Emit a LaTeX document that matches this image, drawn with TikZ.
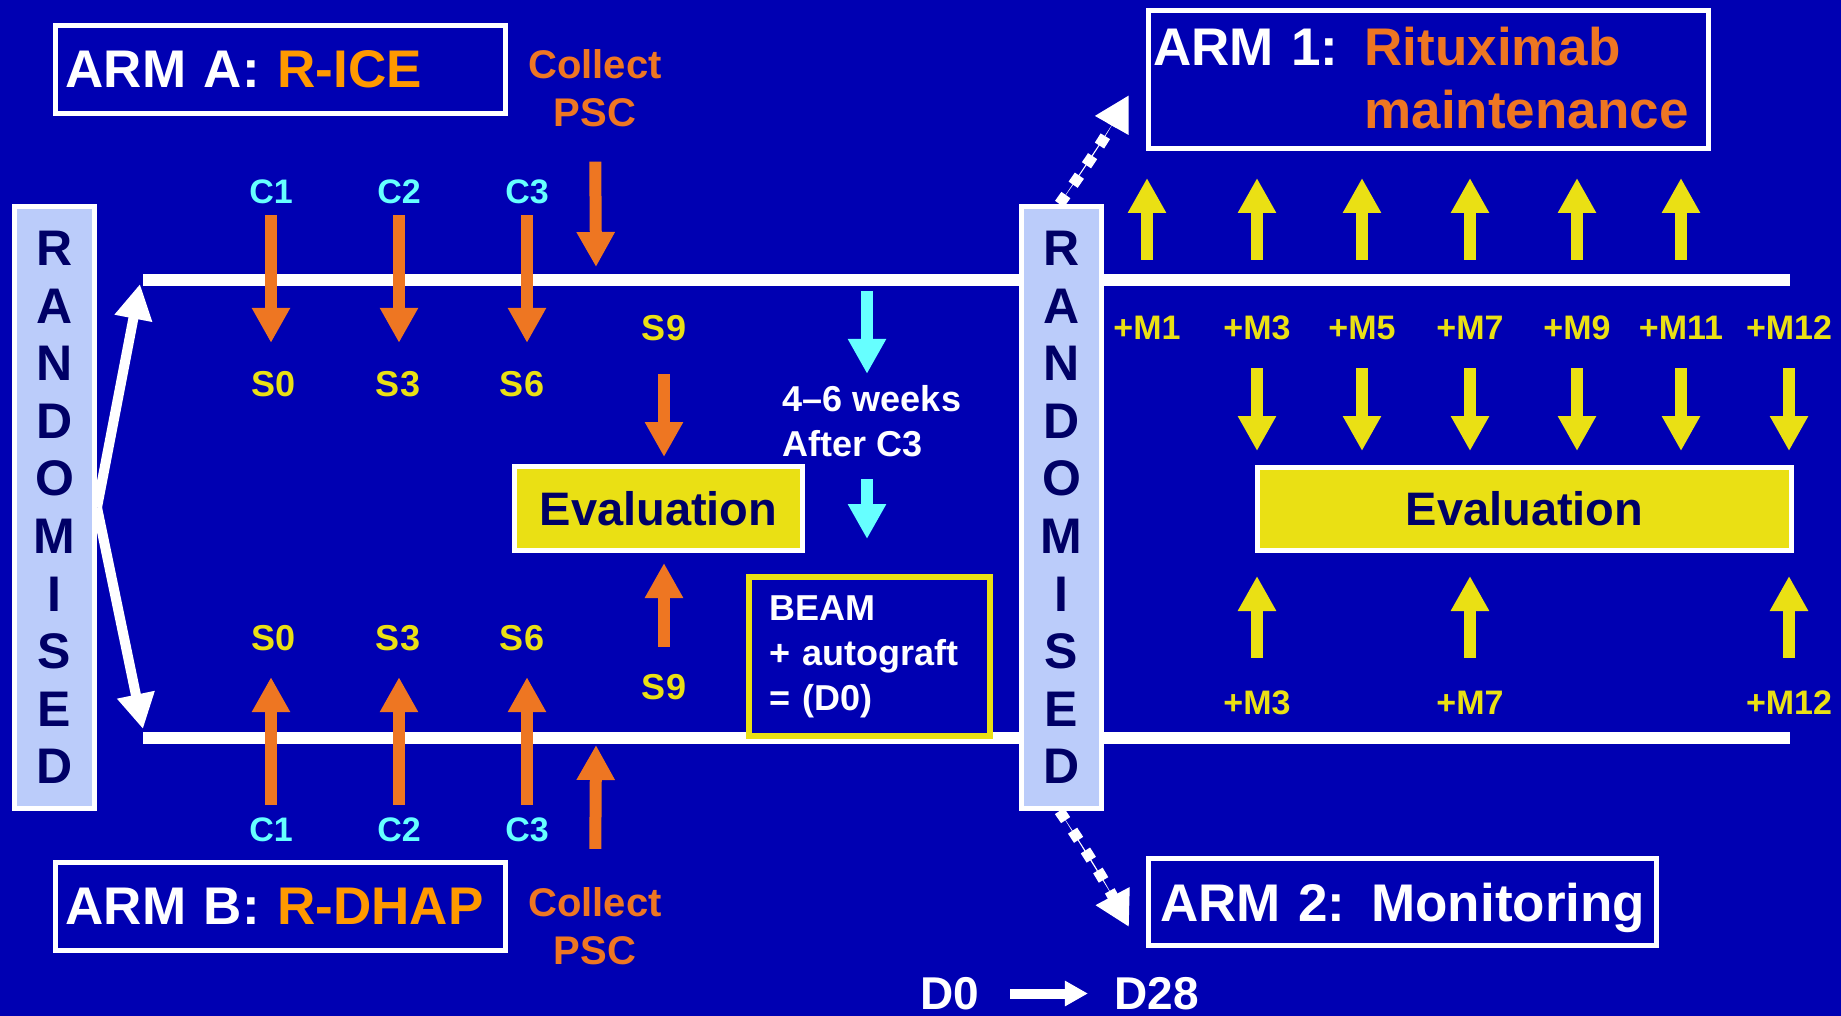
\documentclass[tikz,border=0pt]{standalone}
\usepackage{fontspec}
\setmainfont{Liberation Sans}
\usetikzlibrary{arrows.meta}
\definecolor{slideblue}{RGB}{0,0,178}
\definecolor{pscorange}{RGB}{238,118,34}
\definecolor{armorange}{RGB}{255,153,0}
\definecolor{evalyellow}{RGB}{234,224,20}
\definecolor{cyclecyan}{RGB}{102,255,255}
\definecolor{randblue}{RGB}{187,204,250}
\definecolor{navytext}{RGB}{0,0,102}

\begin{document}
\begin{tikzpicture}[x=0.5pt, y=-0.5pt,
	every node/.style={inner sep=0pt, font=\bfseries},
	boxed/.style={draw=white, line width=2.5pt},
	randbox/.style={boxed, fill=randblue, text=navytext, minimum width=40pt, minimum height=301pt, align=center, font=\bfseries\fontsize{25}{28.8}\selectfont},
	armbox/.style={boxed, fill=slideblue, text=white, align=left, font=\bfseries\fontsize{26.5}{31.5}\selectfont},
	evalbox/.style={boxed, fill=evalyellow, text=navytext, font=\bfseries\fontsize{23.5}{28}\selectfont},
	cyc/.style={text=cyclecyan, font=\bfseries\fontsize{17}{20}\selectfont},
	stage/.style={text=evalyellow, font=\bfseries\fontsize{18}{21}\selectfont},
	month/.style={text=evalyellow, font=\bfseries\fontsize{17}{20}\selectfont},
	tline/.style={draw=white, line width=6pt},
	blockarrow/.style={line width=6pt, -{Triangle[width=18pt, length=17.5pt]}},
	oarrow/.style={blockarrow, draw=pscorange, fill=pscorange},
	yarrow/.style={blockarrow, draw=evalyellow, fill=evalyellow},
	carrow/.style={blockarrow, draw=cyclecyan, fill=cyclecyan},
	warrow/.style={draw=white, fill=white, line width=5pt, -{Triangle[width=18pt, length=17.5pt]}},
	dotarrow/.style={draw=white, fill=white, line width=5.5pt, dash pattern=on 5.5pt off 6.3pt, -{Triangle[width=18pt, length=17.5pt]}}]

	\fill[slideblue] (0,0) rectangle (1841,1016);

	% time lines
	\coordinate (tlA) at (143,280);
	\coordinate (trA) at (1790,280);
	\coordinate (tlB) at (143,737.5);
	\coordinate (trB) at (1790,737.5);
	\draw[tline] (tlA) -- (trA);
	\draw[tline] (tlB) -- (trB);

	\node[randbox] (randL) at (54.5,507.5) {R\\A\\N\\D\\O\\M\\I\\S\\E\\D};
	\node[randbox] (randR) at (1061.5,507.5) {R\\A\\N\\D\\O\\M\\I\\S\\E\\D};

	\node[armbox, minimum width=225pt, minimum height=44pt, inner xsep=5pt, text width=215pt] (armA) at (280.5,69.5) {ARM A: \textcolor{armorange}{R-ICE}};
	\node[armbox, minimum width=225pt, minimum height=44pt, inner xsep=5pt, text width=215pt] (armB) at (280.5,906.5) {ARM B: \textcolor{armorange}{R-DHAP}};
	\node[armbox, minimum width=280pt, minimum height=69pt, inner xsep=2.25pt, text width=275.5pt] (armOne) at (1428.5,79.5)
		{\raisebox{-2.5pt}[\height][\depth]{\begin{tabular}{@{}l@{\hspace{13pt}}l@{}}ARM 1: & \color{pscorange}Rituximab\\ & \color{pscorange}maintenance\end{tabular}}};
	\node[armbox, minimum width=254pt, minimum height=43.5pt, inner xsep=5.75pt, text width=242.5pt, text depth=0pt] (armTwo) at (1402.5,902) {\mbox{ARM 2:\hspace{13pt}Monitoring}};

	\node[text=pscorange, align=center, font=\bfseries\fontsize{20}{24}\selectfont] (collectA) at (595,88.5) {Collect\\PSC};
	\node[text=pscorange, align=center, font=\bfseries\fontsize{20}{24}\selectfont] (collectB) at (595,926) {Collect\\PSC};

	\begin{scope}[every node/.style={inner sep=0pt, stage}]
	\node[cyc] (cA1) at (271,192) {C1};
	\node[cyc] (cA2) at (399,192) {C2};
	\node[cyc] (cA3) at (527,192) {C3};
	\node (sA0) at (274,384) {S0};
	\node (sA3) at (398,384) {S3};
	\node (sA6) at (522,384) {S6};
	\node (sA9) at (664,328) {S9};

	\node (sB0) at (274,638) {S0};
	\node (sB3) at (398,638) {S3};
	\node (sB6) at (522,638) {S6};
	\node (sB9) at (664,687) {S9};
	\node[cyc] (cB1) at (271,830) {C1};
	\node[cyc] (cB2) at (399,830) {C2};
	\node[cyc] (cB3) at (527,830) {C3};
	\end{scope}

	\node[evalbox, minimum width=144pt, minimum height=42pt] (evalL) at (658.5,508.5) {Evaluation};
	\node[evalbox, minimum width=267pt, minimum height=41.5pt] (evalR) at (1524.5,509) {Evaluation};

	\node[text=white, align=left, font=\bfseries\fontsize{18}{22.5}\selectfont] (weeks) at (872,421) {4--6 weeks\\After C3};
	\node[draw=evalyellow, line width=3pt, fill=slideblue, text=white, align=left, minimum width=120.5pt, minimum height=79.5pt, inner xsep=10pt, text width=100.5pt, font=\bfseries\fontsize{18}{22.5}\selectfont] (beam) at (869.5,656.5) {BEAM\\+ autograft\\= (D0)};

	\begin{scope}[every node/.style={inner sep=0pt, month}]
	\node (mA1) at (1147,328) {+M1};
	\node (mA3) at (1257,328) {+M3};
	\node (mA5) at (1362,328) {+M5};
	\node (mA7) at (1470,328) {+M7};
	\node (mA9) at (1577,328) {+M9};
	\node (mA11) at (1681,328) {+M11};
	\node (mA12) at (1789,328) {+M12};
	\node (mB3) at (1257,703) {+M3};
	\node (mB7) at (1470,703) {+M7};
	\node (mB12) at (1789,703) {+M12};
	\end{scope}

	\node[text=white, font=\bfseries\fontsize{23}{27}\selectfont] (dZero) at (949.5,993.5) {D0};
	\node[text=white, font=\bfseries\fontsize{23}{27}\selectfont] (dTwentyEight) at (1156.5,993.5) {D28};

	% randomisation
	\coordinate (upTip) at (140,284);
	\coordinate (downTip) at (143,729);
	\draw[warrow] (randL.east) -- (upTip);
	\draw[warrow] (randL.east) -- (downTip);
	\coordinate (upArm) at (1129,95);
	\coordinate (downArm) at (1129,927);
	\draw[dotarrow] ([xshift=-1pt]randR.north) to[bend right=3] (upArm);
	\draw[dotarrow] ([xshift=-1pt]randR.south) to[bend left=3] (downArm);

	% arm A
	\draw[oarrow, shorten <=5.5pt, shorten >=14pt] (cA1.south) -- (cA1.south |- sA0.north);
	\draw[oarrow, shorten <=5.5pt, shorten >=14pt] (cA2.south) -- (cA2.south |- sA3.north);
	\draw[oarrow, shorten <=5.5pt, shorten >=14pt] (cA3.south) -- (cA3.south |- sA6.north);
	\coordinate (pscA) at (596,267);
	\draw[oarrow, shorten <=17pt] (collectA.south) -- (pscA);
	\draw[oarrow, shorten <=16.5pt, shorten >=3.5pt] (sA9.south) -- (sA9.south |- evalL.north);

	% arm B
	\draw[oarrow, shorten <=6.5pt, shorten >=13pt] (cB1.north) -- (cB1.north |- sB0.south);
	\draw[oarrow, shorten <=6.5pt, shorten >=13pt] (cB2.north) -- (cB2.north |- sB3.south);
	\draw[oarrow, shorten <=6.5pt, shorten >=13pt] (cB3.north) -- (cB3.north |- sB6.south);
	\coordinate (pscB) at (596,745);
	\draw[oarrow, shorten <=19pt] (collectB.north) -- (pscB);
	\draw[oarrow, shorten <=13.5pt, shorten >=5pt] (sB9.north) -- (sB9.north |- evalL.south);

	% after C3
	\coordinate (cyTop) at (867,291);
	\draw[carrow, shorten >=5.5pt] (cyTop) -- (cyTop |- weeks.north);
	\draw[carrow, shorten <=11pt, shorten >=17.5pt] (cyTop |- weeks.south) -- (cyTop |- beam.north);

	% maintenance
	\draw[yarrow, shorten <=28pt, shorten >=13.5pt] (mA1.north) -- (mA1.north |- armOne.south);
	\draw[yarrow, shorten <=28pt, shorten >=13.5pt] (mA3.north) -- (mA3.north |- armOne.south);
	\draw[yarrow, shorten <=28pt, shorten >=13.5pt] (mA5.north) -- (mA5.north |- armOne.south);
	\draw[yarrow, shorten <=28pt, shorten >=13.5pt] (mA7.north) -- (mA7.north |- armOne.south);
	\draw[yarrow, shorten <=28pt, shorten >=13.5pt] (mA9.north) -- (mA9.north |- armOne.south);
	\draw[yarrow, shorten <=28pt, shorten >=13.5pt] (mA11.north) -- (mA11.north |- armOne.south);

	\draw[yarrow, shorten <=14pt, shorten >=7pt] (mA3.south) -- (mA3.south |- evalR.north);
	\draw[yarrow, shorten <=14pt, shorten >=7pt] (mA5.south) -- (mA5.south |- evalR.north);
	\draw[yarrow, shorten <=14pt, shorten >=7pt] (mA7.south) -- (mA7.south |- evalR.north);
	\draw[yarrow, shorten <=14pt, shorten >=7pt] (mA9.south) -- (mA9.south |- evalR.north);
	\draw[yarrow, shorten <=14pt, shorten >=7pt] (mA11.south) -- (mA11.south |- evalR.north);
	\draw[yarrow, shorten <=14pt, shorten >=7pt] (mA12.south) -- (mA12.south |- evalR.north);

	\draw[yarrow, shorten <=16.5pt, shorten >=11.5pt] (mB3.north) -- (mB3.north |- evalR.south);
	\draw[yarrow, shorten <=16.5pt, shorten >=11.5pt] (mB7.north) -- (mB7.north |- evalR.south);
	\draw[yarrow, shorten <=16.5pt, shorten >=11.5pt] (mB12.north) -- (mB12.north |- evalR.south);

	\draw[draw=white, fill=white, line width=5pt, -{Triangle[width=12pt, length=11.5pt]}, shorten <=15.5pt, shorten >=13pt] (dZero.east) -- (dTwentyEight.west);
\end{tikzpicture}
\end{document}
